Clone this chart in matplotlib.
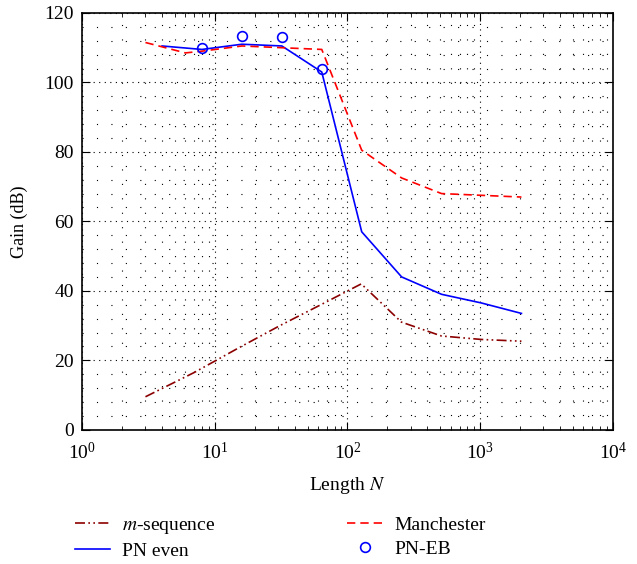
import matplotlib.pyplot as plt
import numpy as np

plt.rcParams['font.family'] = ['Liberation Serif', 'DejaVu Serif']
plt.rcParams['mathtext.fontset'] = 'stix'

# data
n_mseq = [3, 7, 15, 31, 63, 127, 255, 511, 1023, 2047]
g_mseq = [9.5, 16.5, 23.5, 30, 36, 42, 31, 27, 26, 25.5]

n_manch = [3, 6, 8, 16, 32, 64, 128, 256, 512, 1024, 2048]
g_manch = [111.5, 108.5, 109, 110.5, 110, 109.5, 80.5, 72.5, 68, 67.5, 67]

n_pn = [4, 8, 16, 32, 64, 128, 256, 512, 1024, 2048]
g_pn = [110.5, 109.5, 111, 110.5, 103, 57, 44, 39, 36.5, 33.5]

n_eb = [8, 16, 32, 64]
g_eb = [110, 113.3, 113, 104]

fig = plt.figure(figsize=(6.37, 5.64), dpi=100)
ax = fig.add_axes([0.129, 0.238, 0.833, 0.739])

l1, = ax.plot(n_mseq, g_mseq, color='#8b0000', lw=1.2,
              linestyle=(0, (6, 2, 1, 2, 1, 2)), label='$m$-sequence')
l2, = ax.plot(n_pn, g_pn, color='blue', lw=1.2, label='PN even')
l3, = ax.plot(n_manch, g_manch, color='red', lw=1.2,
              linestyle=(0, (5, 3)), label='Manchester')
l4, = ax.plot(n_eb, g_eb, 'o', mfc='none', mec='blue', ms=7, mew=1.2,
              label='PN-EB')

ax.set_xscale('log')
ax.set_xlim(1, 1e4)
ax.set_ylim(0, 120)
ax.set_yticks(np.arange(0, 121, 20))
ax.set_yticks(np.arange(0, 121, 4), minor=True)
ax.grid(True, which='major', color='black', lw=0.8, linestyle=(0, (1, 4)))
ax.grid(True, which='minor', color='black', lw=0.8, linestyle=(0, (1, 12)))
ax.tick_params(which='both', direction='in', top=True, right=True,
               labelsize=14)
ax.tick_params(axis='x', which='major', length=6, pad=9)
ax.tick_params(axis='y', which='major', length=6, pad=6)
ax.tick_params(which='minor', length=3)
ax.tick_params(axis='y', which='minor', length=0)
for s in ax.spines.values():
    s.set_linewidth(1.2)

ax.set_xlabel('Length $N$', fontsize=14, labelpad=8)
ax.set_ylabel('Gain (dB)', fontsize=13, labelpad=12)

fig.legend(handles=[l1, l2, l3, l4], ncol=2, frameon=False,
           loc='lower center', bbox_to_anchor=(0.44, -0.024), fontsize=14,
           columnspacing=6.8, handlelength=1.8, handletextpad=0.6,
           labelspacing=0.35)

plt.savefig('out.png', dpi=100)
